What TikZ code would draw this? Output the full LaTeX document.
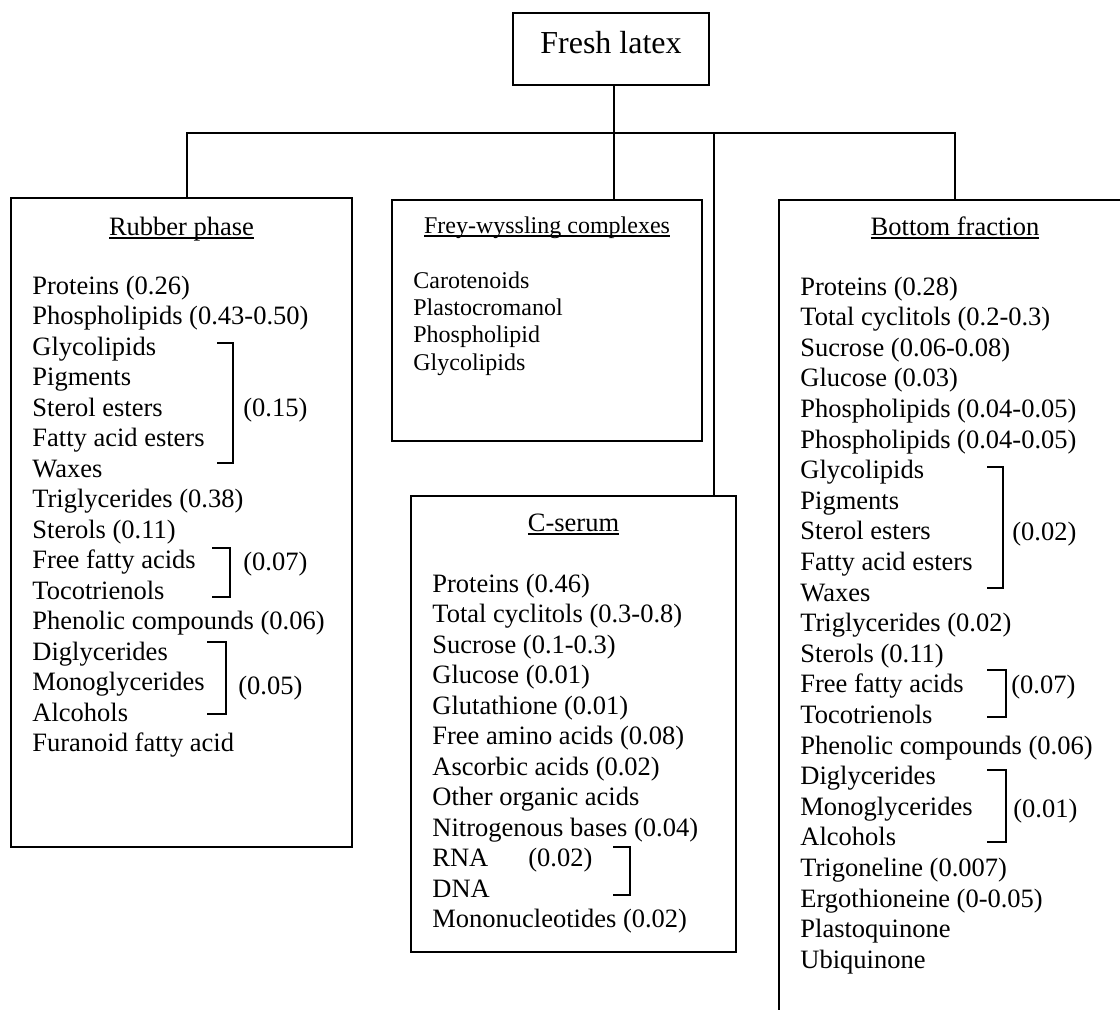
\documentclass[tikz,border=0pt]{standalone}
\usepackage{fontspec}
\setmainfont{Liberation Serif}
\usetikzlibrary{fit}
% underline just below the baseline, a bit heavier than \underline
\newcommand{\undl}[1]{\setbox0=\hbox{#1}\rlap{\rule[-2pt]{\wd0}{0.9pt}}\box0}
\tikzset{
panel/.style={draw, line width=0.8pt, inner sep=0pt}, % the boxes
heading/.style={anchor=base, inner sep=0pt, font=\fontsize{13.25}{15.25}\selectfont},
entry/.style={anchor=base west, inner sep=0pt, font=\fontsize{13.25}{15.25}\selectfont},
small/.style={font=\fontsize{12}{13.8}\selectfont}, % Frey-wyssling box is set smaller
hook/.style={line width=0.8pt}, % brackets that group lines
link/.style={line width=0.8pt},
}

\begin{document}
\begin{tikzpicture}[x=0.5pt, y=-0.5pt]
    \useasboundingbox (0,0) rectangle (1120,1009);
    \clip (0,0) rectangle (1120,1009);

    \node[panel, minimum width=98pt, minimum height=36pt, text height=11.2pt, text depth=7.2pt,
        font=\fontsize{16}{19}\selectfont] (latex) at (611,49) {Fresh latex};

    % the four fractions
    \node[panel, fit={(11,198) (352,847)}] (rubber) {};
    \node[panel, fit={(392,200) (702,441)}] (frey) {};
    \node[panel, fit={(411,496) (736,952)}] (cserum) {};
    \node[panel, fit={(779,200) (1131,1040)}] (bottom) {};

    \coordinate (bus) at (614,133);
    \coordinate (ctap) at (714,133);
    \draw[link] (latex.south -| bus) -- (bus |- frey.north);
    \draw[link] ([xshift=2.75pt]rubber.north) |- (bus) -| (bottom.north);
    \draw[link] (ctap) -- (ctap |- cserum.north);

    % Rubber phase
    \node[heading] (rubberhead) at (181.5,235) {\undl{Rubber phase}};
    \foreach \t [count=\i from 0] in {Proteins (0.26), Phospholipids (0.43-0.50),
        Glycolipids, Pigments, Sterol esters, Fatty acid esters, Waxes,
        Triglycerides (0.38), Sterols (0.11), Free fatty acids, Tocotrienols,
        Phenolic compounds (0.06), Diglycerides, Monoglycerides, Alcohols,
        Furanoid fatty acid}
        \node[entry] (r\i) at (32,294+30.5*\i) {\t};
    \draw[hook] (217,343) -- (233,343) -- (233,463) -- (217,463);
    \node[entry] (r15val) at (243,416) {(0.15)};
    \draw[hook] (212,548) -- (230,548) -- (230,597) -- (212,597);
    \node[entry] (r07val) at (243,570) {(0.07)};
    \draw[hook] (207,642) -- (226,642) -- (226,714) -- (207,714);
    \node[entry] (r05val) at (238,694) {(0.05)};

    % Frey-wyssling complexes
    \node[heading, small] (freyhead) at (547,233) {\undl{Frey-wyssling complexes}};
    \foreach \t [count=\i from 0] in {Carotenoids, Plastocromanol, Phospholipid, Glycolipids}
        \node[entry, small] (f\i) at (413,288+27.4*\i) {\t};

    % C-serum
    \node[heading] (cserumhead) at (573.5,531) {\undl{C-serum}};
    \foreach \t [count=\i from 0] in {Proteins (0.46), Total cyclitols (0.3-0.8),
        Sucrose (0.1-0.3), Glucose (0.01), Glutathione (0.01), Free amino acids (0.08),
        Ascorbic acids (0.02), Other organic acids, Nitrogenous bases (0.04), RNA, DNA,
        Mononucleotides (0.02)}
        \node[entry] (c\i) at (432,592+30.5*\i) {\t};
    \node[entry] (c02val) at (528,866.5) {(0.02)};
    \draw[hook] (613,847) -- (630,847) -- (630,895) -- (613,895);

    % Bottom fraction
    \node[heading] (bottomhead) at (955,235) {\undl{Bottom fraction}};
    \foreach \t [count=\i from 0] in {Proteins (0.28), Total cyclitols (0.2-0.3),
        Sucrose (0.06-0.08), Glucose (0.03), Phospholipids (0.04-0.05),
        Phospholipids (0.04-0.05), Glycolipids, Pigments, Sterol esters,
        Fatty acid esters, Waxes, Triglycerides (0.02), Sterols (0.11),
        Free fatty acids, Tocotrienols, Phenolic compounds (0.06), Diglycerides,
        Monoglycerides, Alcohols, Trigoneline (0.007), Ergothioneine (0-0.05),
        Plastoquinone, Ubiquinone}
        \node[entry] (b\i) at (800,295+30.6*\i) {\t};
    \draw[hook] (987,467) -- (1003,467) -- (1003,588) -- (987,588);
    \node[entry] (b02val) at (1012,540) {(0.02)};
    \draw[hook] (987,670) -- (1006,670) -- (1006,717) -- (987,717);
    \node[entry] (b07val) at (1011,693) {(0.07)};
    \draw[hook] (987,770) -- (1006,770) -- (1006,842) -- (987,842);
    \node[entry] (b01val) at (1013,817) {(0.01)};
\end{tikzpicture}
\end{document}
